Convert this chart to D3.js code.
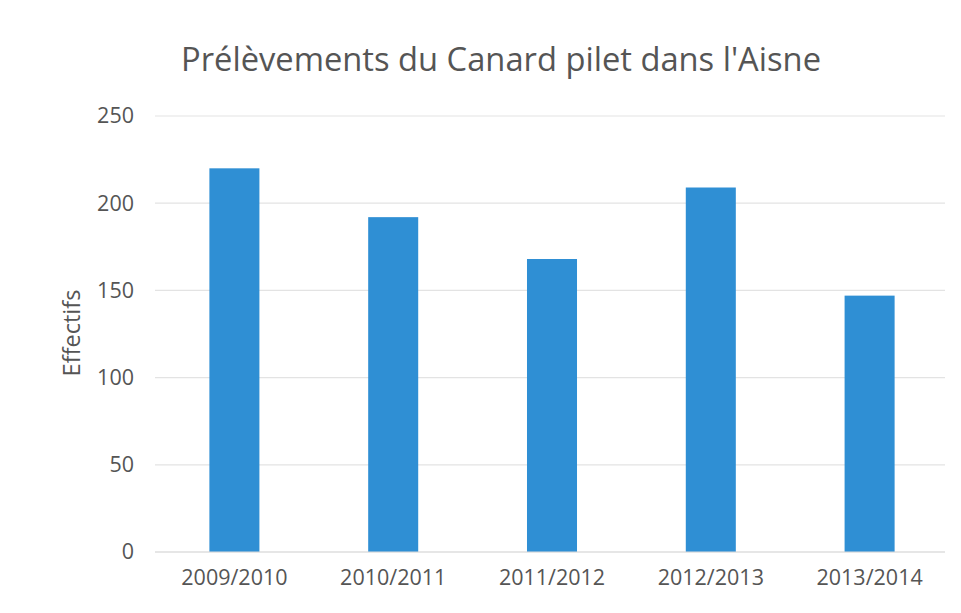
<!DOCTYPE html>
<html>
<head>
<meta charset="utf-8">
<script src="https://cdn.jsdelivr.net/npm/d3@7"></script>
<style>
  body { margin: 0; background: #fff; }
  text { font-family: "Open Sans", sans-serif; fill: #555; }
</style>
</head>
<body>
<svg id="chart"></svg>
<script>
// saisons et effectifs prélevés
const seasons = ["2009/2010", "2010/2011", "2011/2012", "2012/2013", "2013/2014"];
const counts = [220, 192, 168, 209, 147];
const yTicks = [0, 50, 100, 150, 200, 250];
const title = "Prélèvements du Canard pilet dans l'Aisne";

const width = 961, height = 613;
const margin = { top: 116, right: 12, bottom: 61, left: 155 };
const innerW = width - margin.left - margin.right,
      innerH = height - margin.top - margin.bottom;

const svg = d3.select("#chart")
    .attr("width", width)
    .attr("height", height);

const g = svg.append("g")
    .attr("transform", `translate(${margin.left},${margin.top})`);

const x = d3.scaleBand()
    .domain(seasons)
    .range([0, innerW])
    .paddingInner(0.685)
    .paddingOuter(0.3425);

const y = d3.scaleLinear()
    .domain([0, 250])
    .range([innerH, 0]);

// gridlines
g.append("g")
    .selectAll("line")
    .data(yTicks)
    .join("line")
    .attr("x1", 0)
    .attr("x2", innerW - 4)
    .attr("y1", d => y(d))
    .attr("y2", d => y(d))
    .attr("stroke", "#e3e3e3")
    .attr("stroke-width", 1.2);

// y axis labels
const yAxis = d3.axisLeft(y).tickValues(yTicks).tickSize(0).tickPadding(21);
g.append("g")
    .call(yAxis)
    .call(s => s.select(".domain").remove())
    .selectAll("text")
    .style("font-size", "21.5px")
    .attr("fill", "#555");

// x axis labels
const xAxis = d3.axisBottom(x).tickSize(0).tickPadding(18);
g.append("g")
    .attr("transform", `translate(0,${innerH})`)
    .call(xAxis)
    .call(s => s.select(".domain").remove())
    .selectAll("text")
    .style("font-size", "21.5px")
    .attr("fill", "#555");

// bars
g.selectAll("rect.bar")
    .data(counts)
    .join("rect")
    .attr("class", "bar")
    .attr("x", (_, i) => x(seasons[i]))
    .attr("y", d => y(d))
    .attr("width", x.bandwidth())
    .attr("height", d => innerH - y(d))
    .attr("fill", "#2f8fd4");

// baseline
g.append("line")
    .attr("x1", 0)
    .attr("x2", innerW - 4)
    .attr("y1", innerH)
    .attr("y2", innerH)
    .attr("stroke", "#dcdcdc")
    .attr("stroke-width", 1.2);

// y axis title
svg.append("text")
    .attr("transform", `translate(80,333) rotate(-90)`)
    .style("text-anchor", "middle")
    .style("font-size", "23.5px")
    .text("Effectifs");

// chart title
svg.append("text")
    .attr("x", 501)
    .attr("y", 71)
    .style("text-anchor", "middle")
    .style("font-size", "32.7px")
    .text(title);
</script>
</body>
</html>
